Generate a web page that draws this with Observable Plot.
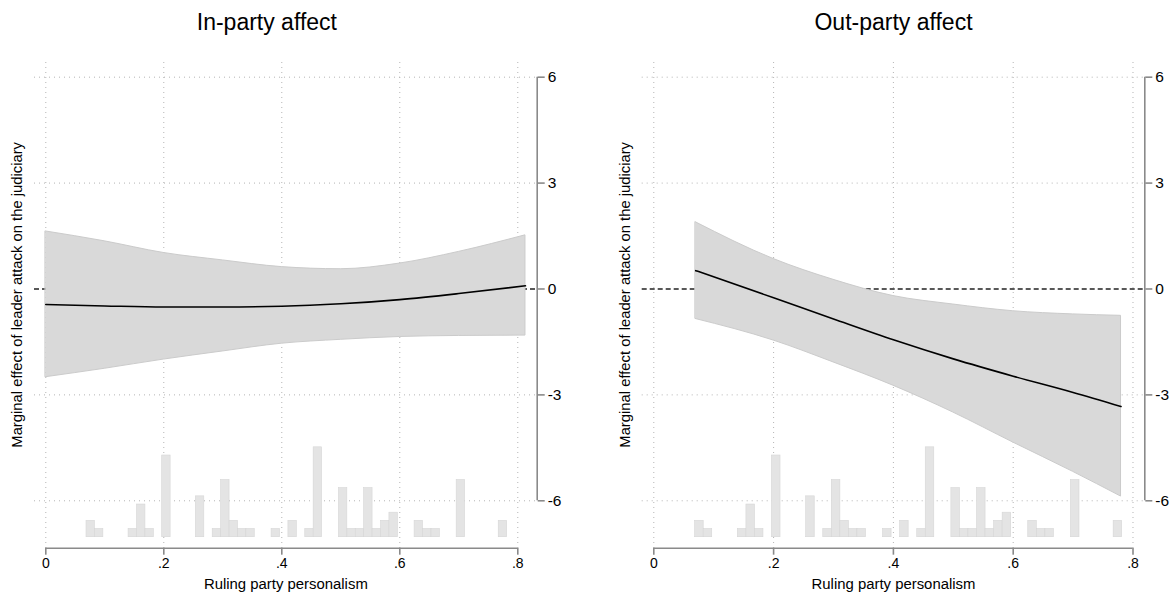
<!DOCTYPE html>
<html><head><meta charset="utf-8">
<script src="https://cdn.jsdelivr.net/npm/d3@7"></script>
<script src="https://cdn.jsdelivr.net/npm/@observablehq/plot@0.6"></script>
<style>
html,body{margin:0;padding:0;background:#fff;}
#chart{position:relative;width:1172px;height:603px;overflow:hidden;}
#chart svg{position:absolute;top:0;}
#chart g[aria-label="x-axis tick label"]{font-size:14px;}
#chart g[aria-label="x-axis tick label"] text{font-size:14px;}
#chart g[aria-label="y-axis tick label"]{font-size:15.5px;}
#chart g[aria-label="y-axis tick label"] text{font-size:15.5px;}
</style></head><body><div id="chart"></div>
<script>
// ---- data ----
const xTicks = [0, 0.2, 0.4, 0.6, 0.8];
const yTicks = [-6, -3, 0, 3, 6];
const yGridTicks = [-6, -3, 3, 6];
const panelTitles = ["In-party affect", "Out-party affect"];
const yLabel = "Marginal effect of leader attack on the judiciary";
const xLabel = "Ruling party personalism";

// In-party affect: marginal effect and 95% CI
const inX   = [0, 0.1, 0.2, 0.3, 0.4, 0.5, 0.6, 0.7, 0.813];
const inEst = [-0.44, -0.48, -0.51, -0.51, -0.49, -0.42, -0.30, -0.13, 0.09];
const inLo  = [-2.50, -2.26, -2.00, -1.77, -1.55, -1.44, -1.36, -1.33, -1.32];
const inHi  = [1.63, 1.35, 1.02, 0.81, 0.62, 0.56, 0.72, 1.05, 1.52];

// Out-party affect: marginal effect and 95% CI
const outX   = [0.07, 0.2, 0.3, 0.4, 0.5, 0.6, 0.7, 0.78];
const outEst = [0.52, -0.25, -0.85, -1.44, -1.98, -2.47, -2.93, -3.33];
const outLo  = [-0.85, -1.46, -2.08, -2.74, -3.50, -4.35, -5.18, -5.88];
const outHi  = [1.89, 0.85, 0.26, -0.20, -0.44, -0.63, -0.72, -0.76];

// Histogram of ruling party personalism (bin left edge, count)
const binWidth = 0.01426;
const binLeft  = [0.0690, 0.0833, 0.1403, 0.1546, 0.1688, 0.1973, 0.2544, 0.2829, 0.2972, 0.3114,
                  0.3257, 0.3399, 0.3827, 0.4112, 0.4398, 0.4540, 0.4968, 0.5111, 0.5253, 0.5396,
                  0.5538, 0.5681, 0.5824, 0.6251, 0.6394, 0.6537, 0.6964, 0.7677];
const binCount = [2, 1, 1, 4, 1, 10, 5, 1, 7, 2,
                  1, 1, 1, 2, 1, 11, 6, 1, 1, 6,
                  1, 2, 3, 2, 1, 1, 7, 2];

// ---- layout ----
const H = 603, MT = 62, MB = 55.3;
const yDomain = [-7.343, 6.416];
const histDomain = [-1.346, 58.1];
const FONT = "Arial, 'Liberation Sans', Helvetica, sans-serif";
const AXIS_GREY = "#8a8a8a";
const GRID_GREY = "#b4b4b4";

const panels = [
  {left: 0, width: 600, ml: 34, mr: 63.3, xDomain: [-0.01915, 0.8329], titleDx: -19, ylabDx: -17,
   x: inX, est: inEst, lo: inLo, hi: inHi, title: panelTitles[0]},
  {left: 600, width: 572, ml: 41.7, mr: 27.7, xDomain: [-0.01937, 0.8197], titleDx: 0, ylabDx: -16.7,
   x: outX, est: outEst, lo: outLo, hi: outHi, title: panelTitles[1]}
];

const bins = binLeft.map((b, i) => ({x1: b, x2: b + binWidth, n: binCount[i]}));
const fmtX = d => d === 0 ? "0" : d3.format(".1f")(d).replace(/^0/, "").replace(/^-0/, "-");

const chart = document.getElementById("chart");

function base(p, yd) {
  return {
    width: p.width, height: H,
    marginLeft: p.ml, marginRight: p.mr, marginTop: MT, marginBottom: MB,
    x: {domain: p.xDomain, axis: null},
    y: {domain: yd, axis: null},
    style: {fontFamily: FONT, fontSize: "14px", background: "transparent", overflow: "visible", color: "black"}
  };
}

for (const p of panels) {
  const rows = p.x.map((x, i) => ({x, est: p.est[i], lo: p.lo[i], hi: p.hi[i]}));

  // layer 1: grid + zero reference line
  const g = Plot.plot({
    ...base(p, yDomain),
    marks: [
      Plot.gridX(xTicks, {stroke: GRID_GREY, strokeOpacity: 1, strokeDasharray: "1,4", strokeWidth: 1}),
      Plot.gridY(yGridTicks, {stroke: GRID_GREY, strokeOpacity: 1, strokeDasharray: "1,4", strokeWidth: 1}),
      Plot.ruleY([0], {stroke: "#222", strokeWidth: 1.3, strokeDasharray: "5,3"})
    ]
  });

  // layer 2: histogram
  const h = Plot.plot({
    ...base(p, histDomain),
    marks: [
      Plot.rectY(bins, {x1: "x1", x2: "x2", y: "n", fill: "#e4e4e4", stroke: "#d6d6d6", strokeWidth: 0.6})
    ]
  });

  // layer 3: CI band, estimate, axes, text
  const m = Plot.plot({
    ...base(p, yDomain),
    marks: [
      Plot.areaY(rows, {x: "x", y1: "lo", y2: "hi", fill: "#d9d9d9", stroke: "#cbcbcb", strokeWidth: 1, curve: "monotone-x"}),
      Plot.lineY(rows, {x: "x", y: "est", stroke: "black", strokeWidth: 1.6, curve: "monotone-x"}),
      Plot.ruleY([yDomain[0]], {x1: xTicks[0], x2: xTicks[xTicks.length - 1], stroke: AXIS_GREY, strokeWidth: 1.6}),
      Plot.axisX({ticks: xTicks, tickFormat: fmtX, tickSize: 7, tickPadding: 3, stroke: AXIS_GREY, strokeWidth: 1.6, color: "black", fontSize: 14, label: null}),
      Plot.ruleX([p.xDomain[1]], {y1: yTicks[0], y2: yTicks[yTicks.length - 1], stroke: AXIS_GREY, strokeWidth: 1.6}),
      Plot.axisY({anchor: "right", ticks: yTicks, tickFormat: d => String(d), tickSize: 7, tickPadding: 3.5, stroke: AXIS_GREY, strokeWidth: 1.6, color: "black", fontSize: 15.5, label: null}),
      Plot.text([p.title], {frameAnchor: "top", lineAnchor: "middle", dy: -40, dx: p.titleDx, fontSize: 23, fill: "black"}),
      Plot.text([xLabel], {frameAnchor: "bottom", dy: 40.5, fontSize: 14.9, fill: "black"}),
      Plot.text([yLabel], {frameAnchor: "left", textAnchor: "middle", rotate: -90, dx: p.ylabDx, dy: -10.5, fontSize: 14.8, fill: "black"})
    ]
  });

  for (const svg of [g, h, m]) {
    svg.style.left = p.left + "px";
    chart.appendChild(svg);
  }
}
</script>
</body></html>
